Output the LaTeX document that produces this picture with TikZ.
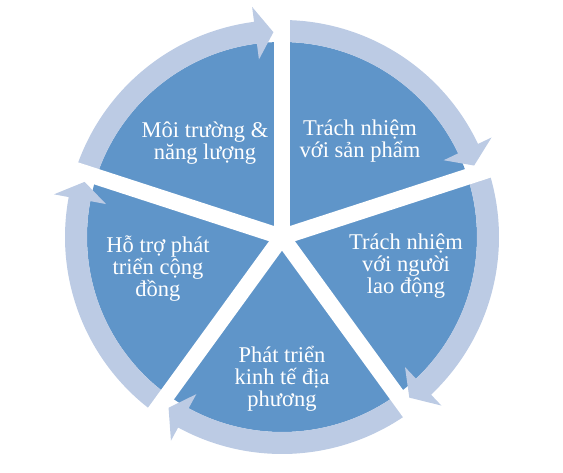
\documentclass[tikz,border=0pt]{standalone}
\usepackage{fontspec}
\setmainfont{Liberation Serif}
\definecolor{pieblue}{HTML}{5F95C9}
\definecolor{ringblue}{HTML}{BCCBE4}
\begin{document}
\begin{tikzpicture}[x=1pt,y=1pt,
  lbl/.style={text=white, align=center, font=\fontsize{22.5}{22}\selectfont, inner sep=0pt},
  gapline/.style={white, line width=16pt}]
\useasboundingbox (-282,-235) rectangle (281,237);
\coordinate (C) at (0,0);
\fill[pieblue] (C) circle[radius=195pt];
\foreach \a/\t in {162/90, 90/18, 18/-54, -54/-126, -126/-198} {
  \pgfmathsetmacro\T{\t+2.4}
  \pgfmathsetmacro\B{\T+5}
  \fill[ringblue] (\a:217pt) arc[start angle=\a, end angle=\B, radius=217pt]
    -- (\B:232pt) -- (\T:205pt) -- (\B:179pt) -- (\B:195pt)
    arc[start angle=\B, end angle=\a, radius=195pt] -- cycle;
}
\foreach \g in {90,18,-54,-126,162} {
  \draw[gapline] (C) -- (\g:250pt);
}
\fill[white] (C) circle[radius=8pt];
\node[lbl] (t1) at (78,96) {Trách nhiệm\\với sản phẩm};
\node[lbl] (t2) at (124,-29) {Trách nhiệm\\với người\\lao động};
\node[lbl] (t3) at (0,-142) {Phát triển\\kinh tế địa\\phương};
\node[lbl] (t4) at (-124,-32) {Hỗ trợ phát\\triển cộng\\đồng};
\node[lbl] (t5) at (-77,94) {Môi trường \&\\năng lượng};
\end{tikzpicture}
\end{document}
